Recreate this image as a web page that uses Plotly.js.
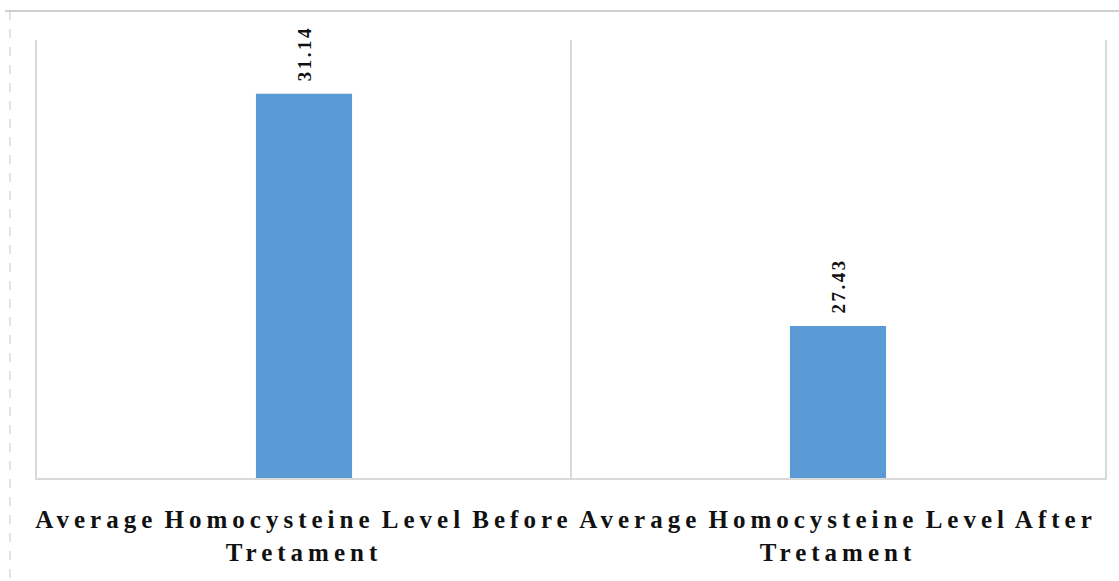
<!DOCTYPE html>
<html>
<head>
<meta charset="utf-8">
<script src="https://cdn.plot.ly/plotly-3.0.1.min.js"></script>
<style>
  html, body { margin: 0; padding: 0; background: #fff; }
  #chart { width: 1119px; height: 581px; }
  .xtick text { letter-spacing: 5px; word-spacing: -4px; }
  .annotation-text { letter-spacing: 2.5px; }
</style>
</head>
<body>
<div id="chart"></div>
<script>
const categories = [
  "Average Homocysteine Level Before<br>Tretament",
  "Average Homocysteine Level After<br>Tretament"
];
const values = [31.14, 27.43];
const valueLabels = ["31.14", "27.43"];

const trace = {
  type: "bar",
  x: categories,
  y: values,
  width: 0.18,
  marker: { color: "#5b9bd5" },
  hoverinfo: "x+y"
};

const annotations = categories.map((c, i) => ({
  x: c, y: values[i], xref: "x", yref: "y",
  text: valueLabels[i],
  textangle: -90,
  showarrow: false,
  xanchor: "center", yanchor: "bottom",
  yshift: 10,
  font: { family: "Liberation Serif, Times New Roman, serif", size: 19, color: "#111111", weight: "bold" }
}));

const layout = {
  width: 1119, height: 581,
  margin: { l: 37, r: 14, t: 40, b: 103 },
  paper_bgcolor: "#ffffff",
  plot_bgcolor: "#ffffff",
  showlegend: false,
  xaxis: {
    type: "category",
    tickson: "boundaries",
    showgrid: true,
    gridcolor: "#d9d9d9",
    gridwidth: 2,
    showline: true,
    linecolor: "#d9d9d9",
    linewidth: 2,
    ticks: "",
    ticklabelstandoff: 18,
    tickfont: { family: "Liberation Serif, Times New Roman, serif", size: 25, color: "#111111", weight: "bold" },
    automargin: false
  },
  yaxis: {
    range: [25, 32],
    showgrid: false,
    zeroline: false,
    showticklabels: false,
    ticks: "",
    showline: true,
    mirror: true,
    linecolor: "#d9d9d9",
    linewidth: 2
  },
  annotations: annotations,
  shapes: [
    { type: "line", xref: "paper", yref: "paper", x0: -0.03, x1: 1.02, y0: 1.0662, y1: 1.0662,
      line: { color: "#cfcfcf", width: 2 } },
    { type: "line", xref: "paper", yref: "paper", x0: -0.0253, x1: -0.0253, y0: 1.0662, y1: -0.24,
      line: { color: "#c8c8c8", width: 1, dash: "dash" } }
  ]
};

Plotly.newPlot("chart", [trace], layout, { displayModeBar: false, staticPlot: true });
</script>
</body>
</html>
